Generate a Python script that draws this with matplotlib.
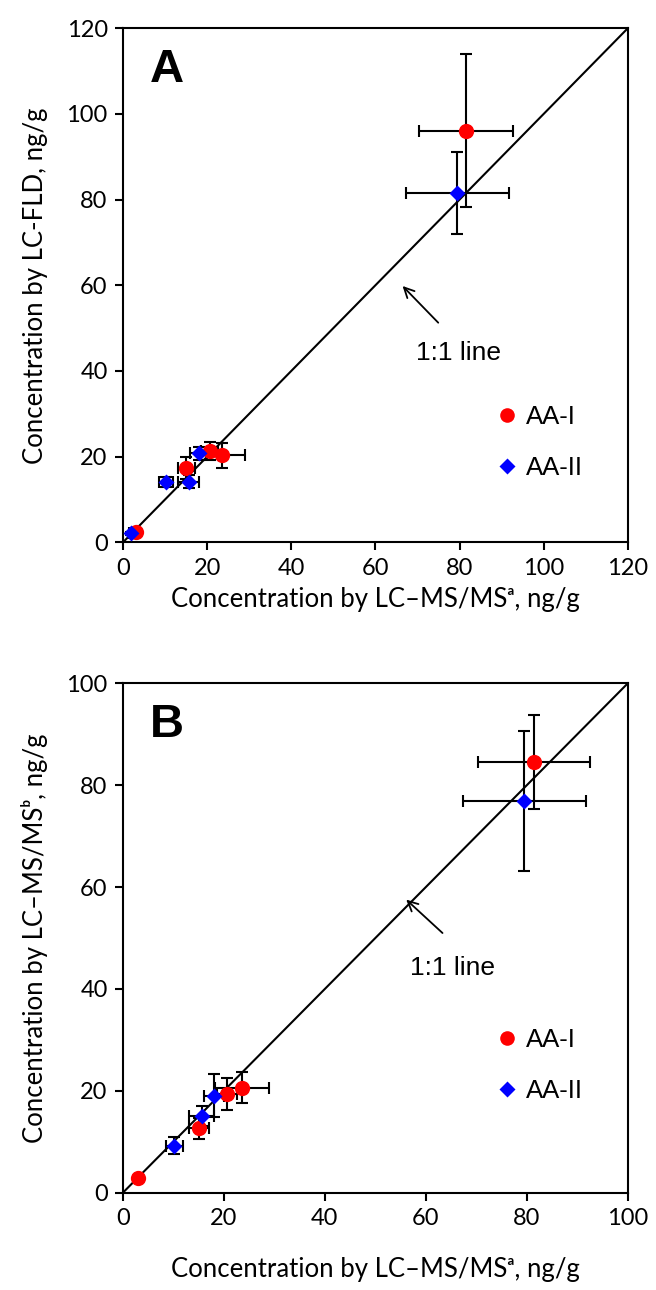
from matplotlib import pyplot as plt
from matplotlib.lines import Line2D

plt.rcParams['font.family'] = ['Lato', 'DejaVu Sans']

# x values (LC-MS/MS a) shared by both panels
aa1_x = [81.5, 23.6, 20.6, 15.0, 3.0]
aa1_xerr = [11.1, 5.4, 2.0, 2.0, 0.5]
aa2_x = [79.5, 18.0, 15.6, 10.2, 1.8]
aa2_xerr = [12.2, 2.0, 2.5, 1.7, 0.3]

# panel A: LC-FLD
a_aa1_y = [96.1, 20.3, 21.3, 17.4, 2.5]
a_aa1_yerr = [17.8, 3.0, 2.2, 2.6, 0.5]
a_aa2_y = [81.5, 20.8, 14.1, 14.1, 2.1]
a_aa2_yerr = [9.5, 1.5, 1.5, 1.2, 0.3]

# panel B: LC-MS/MS b (no low AA-II point)
b_aa1_y = [84.5, 20.6, 19.4, 12.6, 2.8]
b_aa1_yerr = [9.2, 3.1, 3.1, 2.0, 0.5]
b_aa2_x = aa2_x[:4]
b_aa2_xerr = aa2_xerr[:4]
b_aa2_y = [76.9, 19.0, 15.0, 9.2]
b_aa2_yerr = [13.7, 4.2, 2.0, 1.7]

fig = plt.figure(figsize=(6.56, 12.9), dpi=100)
axA = fig.add_axes([0.1875, 0.5796, 0.7695, 0.3985])
axB = fig.add_axes([0.1875, 0.0755, 0.7695, 0.3948])

ebkw = dict(ls='none', ecolor='black', elinewidth=1.5, capsize=4.5, capthick=1.5)


def panel(ax, lim, ticks, x1, x1e, y1, y1e, x2, x2e, y2, y2e, letter, ylabel,
          txt_xy, arrow_head, arrow_tail, leg_y, xpad):
    ax.plot([0, lim], [0, lim], color='black', lw=1.5, zorder=1)
    ax.errorbar(x1, y1, xerr=x1e, yerr=y1e, **ebkw, zorder=2)
    ax.errorbar(x2, y2, xerr=x2e, yerr=y2e, **ebkw, zorder=2)
    ax.plot(x1, y1, 'o', color='red', ms=11, mec='none', zorder=3)
    ax.plot(x2, y2, 'D', color='blue', ms=8.5, mec='none', zorder=4)
    ax.set_xlim(0, lim)
    ax.set_ylim(0, lim)
    ax.set_xticks(ticks)
    ax.set_yticks(ticks)
    ax.tick_params(direction='out', length=6, width=1.5, labelsize=17, pad=5)
    for s in ax.spines.values():
        s.set_linewidth(1.5)
    ax.set_xlabel('Concentration by LC\u2013MS/MS\u1d43, ng/g', fontsize=18.5, labelpad=xpad)
    ax.set_ylabel(ylabel, fontsize=18.5, labelpad=13)
    ax.text(0.053, 0.962, letter, transform=ax.transAxes, fontsize=34,
            fontweight='bold', va='top', ha='left', family=['Liberation Sans'])
    ax.annotate('', xy=arrow_head, xytext=arrow_tail,
                arrowprops=dict(arrowstyle='->', color='black', lw=1.3,
                                mutation_scale=18))
    ax.text(txt_xy[0], txt_xy[1], '1:1 line', fontsize=19, ha='center', va='center',
            family=['Liberation Sans'])
    h1 = Line2D([], [], marker='o', color='red', ls='none', ms=10.5, mec='none')
    h2 = Line2D([], [], marker='D', color='blue', ls='none', ms=8, mec='none')
    ax.legend([h1, h2], ['AA-I', 'AA-II'], loc='center left',
              bbox_to_anchor=(0.71, leg_y), frameon=False, handlelength=1.0,
              handletextpad=0.25, labelspacing=1.05, borderpad=0,
              prop={'family': 'Liberation Sans', 'size': 18.5})


panel(axA, 120, range(0, 121, 20), aa1_x, aa1_xerr, a_aa1_y, a_aa1_yerr,
      aa2_x, aa2_xerr, a_aa2_y, a_aa2_yerr, 'A', 'Concentration by LC-FLD, ng/g',
      (79.8, 44.2), (66.0, 60.3), (75.4, 50.8), 0.195, 6)
panel(axB, 100, range(0, 101, 20), aa1_x, aa1_xerr, b_aa1_y, b_aa1_yerr,
      b_aa2_x, b_aa2_xerr, b_aa2_y, b_aa2_yerr, 'B',
      'Concentration by LC\u2013MS/MS\u1d47, ng/g',
      (65.3, 44.1), (55.7, 57.9), (63.7, 50.6), 0.25, 20)

plt.savefig('out.png', dpi=100)
